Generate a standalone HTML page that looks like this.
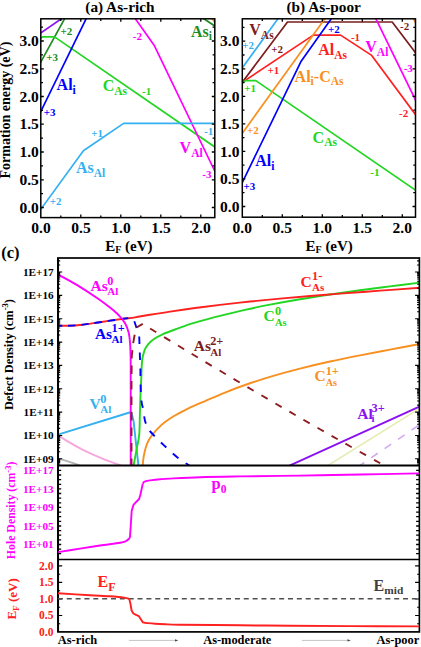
<!DOCTYPE html>
<html><head><meta charset="utf-8"><style>
html,body{margin:0;padding:0;background:#fff;width:421px;height:647px;overflow:hidden}
svg{display:block}
text{font-family:"Liberation Serif",serif;font-weight:bold}
</style></head><body>
<svg width="421" height="647" viewBox="0 0 421 647">
<rect width="421" height="647" fill="#fff"/>

<clipPath id="ca"><rect x="40.8" y="18.8" width="174.0" height="198.79999999999998"/></clipPath>
<clipPath id="cb"><rect x="242.3" y="18.8" width="173.2" height="198.39999999999998"/></clipPath>
<g clip-path="url(#ca)">
<path d="M38.33,34.71 L64.97,16.29" fill="none" stroke="#8a10f2" stroke-width="1.7" stroke-linejoin="round" />
<path d="M39.35,64.63 L66.45,15.37" fill="none" stroke="#1e8c1e" stroke-width="1.7" stroke-linejoin="round" />
<path d="M201.10,16.95 L217.30,27.65" fill="none" stroke="#1e8c1e" stroke-width="1.7" stroke-linejoin="round" />
<path d="M210.68,16.07 L216.42,25.03" fill="none" stroke="#f89020" stroke-width="1.7" stroke-linejoin="round" />
<path d="M38.61,40.35 L42.30,36.90 L53.50,36.80 L56.00,37.90 L217.27,148.70" fill="none" stroke="#22d622" stroke-width="1.7" stroke-linejoin="round" />
<path d="M39.48,114.20 L87.82,15.30" fill="none" stroke="#0000ff" stroke-width="1.7" stroke-linejoin="round" />
<path d="M133.67,16.35 L154.10,45.20 L216.10,173.90" fill="none" stroke="#ff00ff" stroke-width="1.7" stroke-linejoin="round" />
<path d="M39.04,211.73 L83.40,150.70 L123.60,123.40 L217.80,123.40" fill="none" stroke="#35b0f0" stroke-width="1.7" stroke-linejoin="round" />
</g>
<rect x="40.8" y="18.8" width="174.0" height="198.79999999999998" fill="none" stroke="#000" stroke-width="1.5"/>
<path d="M60.8,217.6v-2.2M60.8,18.8v2.2M80.8,217.6v-3M80.8,18.8v3M100.8,217.6v-2.2M100.8,18.8v2.2M120.8,217.6v-3M120.8,18.8v3M140.8,217.6v-2.2M140.8,18.8v2.2M160.8,217.6v-3M160.8,18.8v3M180.8,217.6v-2.2M180.8,18.8v2.2M200.8,217.6v-3M200.8,18.8v3M40.8,207.5h3M214.8,207.5h-3M40.8,193.6h2.2M214.8,193.6h-2.2M40.8,179.8h3M214.8,179.8h-3M40.8,165.9h2.2M214.8,165.9h-2.2M40.8,152.0h3M214.8,152.0h-3M40.8,138.1h2.2M214.8,138.1h-2.2M40.8,124.2h3M214.8,124.2h-3M40.8,110.4h2.2M214.8,110.4h-2.2M40.8,96.5h3M214.8,96.5h-3M40.8,82.6h2.2M214.8,82.6h-2.2M40.8,68.8h3M214.8,68.8h-3M40.8,54.9h2.2M214.8,54.9h-2.2M40.8,41.0h3M214.8,41.0h-3M40.8,27.1h2.2M214.8,27.1h-2.2" stroke="#000" stroke-width="1.3" fill="none"/>
<text x="60.5" y="34.6" font-size="11" fill="#1e8c1e" text-anchor="start" >+2</text>
<text x="46.3" y="60.8" font-size="11" fill="#1e8c1e" text-anchor="start" >+3</text>
<text x="56.6" y="90.0" font-size="16" fill="#0000ff">Al<tspan dy="4.0" font-size="11.5">i</tspan></text>
<text x="43.8" y="115.5" font-size="11" fill="#0000ff" text-anchor="start" >+3</text>
<text x="102.7" y="91.2" font-size="16" fill="#22d622">C<tspan dy="3.4" font-size="11.5">As</tspan></text>
<text x="142.1" y="94.6" font-size="11" fill="#22d622" text-anchor="start" >-1</text>
<text x="132.8" y="39.7" font-size="11" fill="#ff00ff" text-anchor="start" >-2</text>
<text x="190.9" y="36.7" font-size="16" fill="#1e8c1e">As<tspan dy="2.8" font-size="11.5">i</tspan></text>
<text x="91.3" y="136.7" font-size="11" fill="#35b0f0" text-anchor="start" >+1</text>
<text x="75.9" y="172.8" font-size="16" fill="#35b0f0">As<tspan dy="3.7" font-size="11.5">Al</tspan></text>
<text x="49.7" y="205.1" font-size="11" fill="#35b0f0" text-anchor="start" >+2</text>
<text x="204.2" y="135.3" font-size="11" fill="#35b0f0" text-anchor="start" >-1</text>
<text x="179.6" y="153.2" font-size="16" fill="#ff00ff">V<tspan dy="3.8" font-size="11.5">Al</tspan></text>
<text x="202.3" y="178.0" font-size="11" fill="#ff00ff" text-anchor="start" >-3</text>
<g clip-path="url(#cb)">
<path d="M240.54,70.23 L280.26,15.57" fill="none" stroke="#35b0f0" stroke-width="1.7" stroke-linejoin="round" />
<path d="M240.50,84.70 L287.50,22.00 L392.20,22.00 L417.31,55.09" fill="none" stroke="#7b1c1c" stroke-width="1.7" stroke-linejoin="round" />
<path d="M239.80,83.96 L313.30,35.10 L340.60,35.10 L371.70,55.40 L417.39,117.11" fill="none" stroke="#ff2020" stroke-width="1.7" stroke-linejoin="round" />
<path d="M239.86,84.65 L245.50,80.60 L255.80,80.60 L417.97,191.90" fill="none" stroke="#22d622" stroke-width="1.7" stroke-linejoin="round" />
<path d="M240.55,135.73 L327.15,15.57" fill="none" stroke="#f89020" stroke-width="1.7" stroke-linejoin="round" />
<path d="M411.83,15.99 L416.97,25.11" fill="none" stroke="#f89020" stroke-width="1.7" stroke-linejoin="round" />
<path d="M240.99,185.20 L300.80,61.80 L333.53,15.55" fill="none" stroke="#0000ff" stroke-width="1.7" stroke-linejoin="round" />
<path d="M374.18,15.30 L416.92,102.90" fill="none" stroke="#ff00ff" stroke-width="1.7" stroke-linejoin="round" />
</g>
<rect x="242.3" y="18.8" width="173.2" height="198.39999999999998" fill="none" stroke="#000" stroke-width="1.5"/>
<path d="M262.3,217.2v-2.2M262.3,18.8v2.2M282.3,217.2v-3M282.3,18.8v3M302.3,217.2v-2.2M302.3,18.8v2.2M322.3,217.2v-3M322.3,18.8v3M342.3,217.2v-2.2M342.3,18.8v2.2M362.3,217.2v-3M362.3,18.8v3M382.3,217.2v-2.2M382.3,18.8v2.2M402.3,217.2v-3M402.3,18.8v3M242.3,206.5h3M415.5,206.5h-3M242.3,192.7h2.2M415.5,192.7h-2.2M242.3,178.9h3M415.5,178.9h-3M242.3,165.2h2.2M415.5,165.2h-2.2M242.3,151.4h3M415.5,151.4h-3M242.3,137.6h2.2M415.5,137.6h-2.2M242.3,123.8h3M415.5,123.8h-3M242.3,110.1h2.2M415.5,110.1h-2.2M242.3,96.3h3M415.5,96.3h-3M242.3,82.5h2.2M415.5,82.5h-2.2M242.3,68.8h3M415.5,68.8h-3M242.3,55.0h2.2M415.5,55.0h-2.2M242.3,41.2h3M415.5,41.2h-3M242.3,27.4h2.2M415.5,27.4h-2.2" stroke="#000" stroke-width="1.3" fill="none"/>
<text x="249.3" y="35.0" font-size="16" fill="#7b1c1c">V<tspan dy="3.5" font-size="11.5">As</tspan></text>
<text x="242.2" y="48.7" font-size="11" fill="#35b0f0" text-anchor="start" >+2</text>
<text x="271.2" y="53.4" font-size="11" fill="#7b1c1c" text-anchor="start" >+2</text>
<text x="267.4" y="74.4" font-size="11" fill="#ff2020" text-anchor="start" >+1</text>
<text x="244.2" y="91.6" font-size="11" fill="#22d622" text-anchor="start" >+1</text>
<text x="294.6" y="81.6" font-size="16" fill="#f89020">Al<tspan dy="3.5" font-size="11.5">i</tspan><tspan dy="-3.5">-C</tspan><tspan dy="3.5" font-size="11.5">As</tspan></text>
<text x="327.9" y="32.8" font-size="11" fill="#0000ff" text-anchor="start" >+2</text>
<text x="350.9" y="41.0" font-size="11" fill="#ff2020" text-anchor="start" >-1</text>
<text x="318.2" y="54.8" font-size="16" fill="#ff2020">Al<tspan dy="4.3" font-size="11.5">As</tspan></text>
<text x="365.3" y="51.6" font-size="16" fill="#ff00ff">V<tspan dy="4.2" font-size="11.5">Al</tspan></text>
<text x="400.0" y="30.3" font-size="11" fill="#7b1c1c" text-anchor="start" >-2</text>
<text x="403.7" y="72.0" font-size="11" fill="#ff00ff" text-anchor="start" >-3</text>
<text x="399.0" y="116.9" font-size="11" fill="#ff2020" text-anchor="start" >-2</text>
<text x="247.0" y="134.2" font-size="11" fill="#f89020" text-anchor="start" >+2</text>
<text x="255.3" y="166.0" font-size="16" fill="#0000ff">Al<tspan dy="4.0" font-size="11.5">i</tspan></text>
<text x="243.5" y="189.8" font-size="11" fill="#0000ff" text-anchor="start" >+3</text>
<text x="312.6" y="143.0" font-size="16" fill="#22d622">C<tspan dy="3.4" font-size="11.5">As</tspan></text>
<text x="370.3" y="176.3" font-size="11" fill="#22d622" text-anchor="start" >-1</text>
<text x="38.8" y="212.7" font-size="15.5" fill="#000" text-anchor="end" >0.0</text>
<text x="239.4" y="211.7" font-size="15.5" fill="#000" text-anchor="end" >0.0</text>
<text x="38.8" y="184.95" font-size="15.5" fill="#000" text-anchor="end" >0.5</text>
<text x="239.4" y="184.14999999999998" font-size="15.5" fill="#000" text-anchor="end" >0.5</text>
<text x="38.8" y="157.2" font-size="15.5" fill="#000" text-anchor="end" >1.0</text>
<text x="239.4" y="156.6" font-size="15.5" fill="#000" text-anchor="end" >1.0</text>
<text x="38.8" y="129.45" font-size="15.5" fill="#000" text-anchor="end" >1.5</text>
<text x="239.4" y="129.04999999999998" font-size="15.5" fill="#000" text-anchor="end" >1.5</text>
<text x="38.8" y="101.7" font-size="15.5" fill="#000" text-anchor="end" >2.0</text>
<text x="239.4" y="101.5" font-size="15.5" fill="#000" text-anchor="end" >2.0</text>
<text x="38.8" y="73.95" font-size="15.5" fill="#000" text-anchor="end" >2.5</text>
<text x="239.4" y="73.95" font-size="15.5" fill="#000" text-anchor="end" >2.5</text>
<text x="38.8" y="46.2" font-size="15.5" fill="#000" text-anchor="end" >3.0</text>
<text x="239.4" y="46.39999999999999" font-size="15.5" fill="#000" text-anchor="end" >3.0</text>
<text x="41" y="232.6" font-size="15.5" fill="#000" text-anchor="middle" >0.0</text>
<text x="242.3" y="232.6" font-size="15.5" fill="#000" text-anchor="middle" >0.0</text>
<text x="81" y="232.6" font-size="15.5" fill="#000" text-anchor="middle" >0.5</text>
<text x="282.3" y="232.6" font-size="15.5" fill="#000" text-anchor="middle" >0.5</text>
<text x="121" y="232.6" font-size="15.5" fill="#000" text-anchor="middle" >1.0</text>
<text x="322.3" y="232.6" font-size="15.5" fill="#000" text-anchor="middle" >1.0</text>
<text x="161" y="232.6" font-size="15.5" fill="#000" text-anchor="middle" >1.5</text>
<text x="362.3" y="232.6" font-size="15.5" fill="#000" text-anchor="middle" >1.5</text>
<text x="201" y="232.6" font-size="15.5" fill="#000" text-anchor="middle" >2.0</text>
<text x="402.3" y="232.6" font-size="15.5" fill="#000" text-anchor="middle" >2.0</text>
<text x="105.2" y="250.5" font-size="15">E<tspan dy="2.5" font-size="10">F</tspan><tspan dy="-2.5"> (eV)</tspan></text>
<text x="305.5" y="250.5" font-size="15">E<tspan dy="2.5" font-size="10">F</tspan><tspan dy="-2.5"> (eV)</tspan></text>
<text x="85.3" y="12.0" font-size="15.3" fill="#000" text-anchor="start" >(a) As-rich</text>
<text x="286.5" y="12.0" font-size="15.3" fill="#000" text-anchor="start" >(b) As-poor</text>
<text transform="translate(10.4,110.1) rotate(-90)" font-size="14" text-anchor="middle">Formation energy (eV)</text>
<clipPath id="cc"><rect x="57.9" y="258.0" width="361.5" height="207.5"/></clipPath>
<g clip-path="url(#cc)">
<path d="M57.90,458.30 C59.32,458.72 63.72,459.95 66.40,460.80 C69.08,461.65 71.40,462.45 74.00,463.40 C76.60,464.35 80.67,465.98 82.00,466.50" fill="none" stroke="#b4b4b4" stroke-width="1.9" stroke-linejoin="round" />
<path d="M57.90,434.60 C59.32,435.60 62.13,438.02 66.40,440.60 C70.67,443.18 77.48,447.08 83.50,450.10 C89.52,453.12 96.32,456.17 102.50,458.70 C108.68,461.23 117.02,463.92 120.60,465.30 C124.18,466.68 123.43,466.72 124.00,467.00" fill="none" stroke="#f7a6dc" stroke-width="1.9" stroke-linejoin="round" />
<path d="M357.70,467.00 L422.00,423.00" fill="none" stroke="#d2aaf2" stroke-width="1.6" stroke-linejoin="round" stroke-dasharray="8,8.3"/>
<path d="M325.40,467.00 L419.40,408.60" fill="none" stroke="#e6ecb0" stroke-width="1.6" stroke-linejoin="round" />
<path d="M286.50,467.00 L419.40,406.60" fill="none" stroke="#8a10f2" stroke-width="1.9" stroke-linejoin="round" />
<path d="M142.60,467.00 C142.70,465.83 142.88,462.42 143.20,460.00 C143.52,457.58 143.88,455.13 144.50,452.50 C145.12,449.87 146.00,446.57 146.90,444.20 C147.80,441.83 148.82,440.08 149.90,438.30 C150.98,436.52 152.02,435.18 153.40,433.50 C154.78,431.82 156.42,429.98 158.20,428.20 C159.98,426.42 161.53,424.78 164.10,422.80 C166.67,420.82 169.62,418.67 173.60,416.30 C177.58,413.93 182.77,411.15 188.00,408.60 C193.23,406.05 198.83,403.71 205.00,401.03 C211.17,398.34 217.50,395.47 225.00,392.51 C232.50,389.55 241.67,386.12 250.00,383.27 C258.33,380.41 266.67,377.81 275.00,375.36 C283.33,372.91 290.83,370.86 300.00,368.56 C309.17,366.25 320.00,363.73 330.00,361.52 C340.00,359.32 350.00,357.33 360.00,355.35 C370.00,353.36 380.00,351.52 390.00,349.62 C400.00,347.72 415.00,344.89 420.00,343.95" fill="none" stroke="#f89020" stroke-width="1.9" stroke-linejoin="round" />
<path d="M57.90,434.60 L131.20,412.00 L133.50,420.60 L138.60,467.00" fill="none" stroke="#35b0f0" stroke-width="1.9" stroke-linejoin="round" />
<path d="M133.30,467.00 C133.83,464.17 135.52,455.35 136.50,450.00 C137.48,444.65 138.63,440.98 139.20,434.90 C139.77,428.82 139.67,420.65 139.90,413.50 C140.13,406.35 140.38,397.58 140.60,392.00 C140.82,386.42 140.95,385.18 141.20,380.00 C141.45,374.82 141.55,365.83 142.10,360.90 C142.65,355.97 143.47,353.18 144.50,350.40 C145.53,347.62 146.72,346.10 148.30,344.20 C149.88,342.30 151.62,340.65 154.00,339.00 C156.38,337.35 159.10,335.88 162.60,334.30 C166.10,332.72 170.43,331.20 175.00,329.50 C179.57,327.80 185.00,325.74 190.00,324.13 C195.00,322.51 200.00,321.19 205.00,319.80 C210.00,318.42 213.33,317.47 220.00,315.82 C226.67,314.16 236.67,311.72 245.00,309.85 C253.33,307.99 260.83,306.42 270.00,304.65 C279.17,302.87 290.00,300.91 300.00,299.22 C310.00,297.53 320.00,295.99 330.00,294.50 C340.00,293.02 350.00,291.65 360.00,290.30 C370.00,288.94 380.00,287.68 390.00,286.39 C400.00,285.11 415.00,283.22 420.00,282.59" fill="none" stroke="#22d622" stroke-width="1.9" stroke-linejoin="round" />
<path d="M57.90,325.80 C59.55,325.78 64.12,325.83 67.80,325.70 C71.48,325.57 75.97,325.38 80.00,325.00 C84.03,324.62 87.27,324.08 92.00,323.40 C96.73,322.72 103.17,321.67 108.40,320.90 C113.63,320.13 118.97,319.40 123.40,318.80 C127.83,318.20 130.57,318.00 135.00,317.32 C139.43,316.64 144.17,315.70 150.00,314.74 C155.83,313.78 162.50,312.69 170.00,311.57 C177.50,310.45 186.67,309.14 195.00,308.02 C203.33,306.90 210.83,305.95 220.00,304.86 C229.17,303.78 240.00,302.58 250.00,301.53 C260.00,300.49 270.00,299.53 280.00,298.61 C290.00,297.69 300.00,296.84 310.00,296.01 C320.00,295.18 328.33,294.53 340.00,293.64 C351.67,292.75 366.67,291.66 380.00,290.67 C393.33,289.69 413.33,288.23 420.00,287.74" fill="none" stroke="#ff2020" stroke-width="1.9" stroke-linejoin="round" />
<path d="M128.30,318.10 C127.48,318.22 126.72,318.33 123.40,318.80 C120.08,319.27 113.63,320.13 108.40,320.90 C103.17,321.67 96.73,322.72 92.00,323.40 C87.27,324.08 84.03,324.62 80.00,325.00 C75.97,325.38 71.48,325.57 67.80,325.70 C64.12,325.83 59.55,325.78 57.90,325.80" fill="none" stroke="#0000ff" stroke-width="1.9" stroke-linejoin="round" stroke-dasharray="7.5,5.8"/>
<path d="M134.3,321.3 L136.6,328 M139.2,336.5 L140.4,370  C140.43,372.50 140.43,379.88 140.60,385.00 C140.77,390.12 141.03,396.90 141.40,400.70 C141.77,404.50 142.20,404.47 142.80,407.80 C143.40,411.13 144.13,417.33 145.00,420.70 C145.87,424.07 146.82,425.87 148.00,428.00 C149.18,430.13 149.52,430.68 152.10,433.50 C154.68,436.32 159.22,440.87 163.50,444.90 C167.78,448.93 173.52,454.27 177.80,457.70 C182.08,461.13 186.83,463.87 189.20,465.50 C191.57,467.13 191.53,467.17 192.00,467.50" fill="none" stroke="#0000ff" stroke-width="1.9" stroke-dasharray="7.5,8.5"/>
<path d="M57.90,274.40 C60.98,276.10 69.75,280.58 76.40,284.60 C83.05,288.62 92.10,294.58 97.80,298.50 C103.50,302.42 107.05,305.25 110.60,308.10 C114.15,310.95 116.67,313.03 119.10,315.60 C121.53,318.17 123.60,320.65 125.20,323.50 C126.80,326.35 127.90,329.53 128.70,332.70 C129.50,335.87 129.68,338.62 130.00,342.50 C130.32,346.38 130.48,349.75 130.60,356.00 C130.72,362.25 130.68,361.50 130.70,380.00 C130.72,398.50 130.70,452.50 130.70,467.00" fill="none" stroke="#ff00ff" stroke-width="1.9" stroke-linejoin="round" />
<path d="M131.5,467 L131.5,380 L131.8,356 L133,344 L134.8,334" fill="none" stroke="#8e1c20" stroke-width="1.9" stroke-dasharray="8.5,7"/>
<path d="M136.5,327.5 L142.9,323.8 L149.50,328.14 C153.75,330.74 166.58,338.60 175.00,343.71 C183.42,348.82 190.83,353.31 200.00,358.81 C209.17,364.32 220.00,370.80 230.00,376.74 C240.00,382.68 250.00,388.58 260.00,394.45 C270.00,400.32 280.00,406.15 290.00,411.94 C300.00,417.74 310.00,423.50 320.00,429.22 C330.00,434.94 339.00,440.07 350.00,446.28 C361.00,452.48 380.00,463.10 386.00,466.46" fill="none" stroke="#8e1c20" stroke-width="1.9" stroke-dasharray="7.2,9"/>
</g>
<rect x="57.9" y="258.0" width="361.5" height="373.9" fill="none" stroke="#000" stroke-width="1.7"/>
<line x1="57.9" y1="465.5" x2="419.4" y2="465.5" stroke="#000" stroke-width="2.0"/>
<line x1="58.1" y1="258.0" x2="58.1" y2="631.9" stroke="#000" stroke-width="1.9"/>
<line x1="57.9" y1="559.5" x2="419.4" y2="559.5" stroke="#000" stroke-width="1.6"/>
<path d="M57.9,464.0h2.3M419.4,464.0h-2.3M57.9,462.4h2.3M419.4,462.4h-2.3M57.9,461.1h2.3M419.4,461.1h-2.3M57.9,459.9h2.3M419.4,459.9h-2.3M57.9,458.8h4.3M419.4,458.8h-4.3M57.9,451.8h2.3M419.4,451.8h-2.3M57.9,447.7h2.3M419.4,447.7h-2.3M57.9,444.7h2.3M419.4,444.7h-2.3M57.9,442.5h2.3M419.4,442.5h-2.3M57.9,440.6h2.3M419.4,440.6h-2.3M57.9,439.1h2.3M419.4,439.1h-2.3M57.9,437.7h2.3M419.4,437.7h-2.3M57.9,436.5h2.3M419.4,436.5h-2.3M57.9,435.5h4.3M419.4,435.5h-4.3M57.9,428.4h2.3M419.4,428.4h-2.3M57.9,424.3h2.3M419.4,424.3h-2.3M57.9,421.4h2.3M419.4,421.4h-2.3M57.9,419.1h2.3M419.4,419.1h-2.3M57.9,417.3h2.3M419.4,417.3h-2.3M57.9,415.7h2.3M419.4,415.7h-2.3M57.9,414.4h2.3M419.4,414.4h-2.3M57.9,413.2h2.3M419.4,413.2h-2.3M57.9,412.1h4.3M419.4,412.1h-4.3M57.9,405.1h2.3M419.4,405.1h-2.3M57.9,401.0h2.3M419.4,401.0h-2.3M57.9,398.0h2.3M419.4,398.0h-2.3M57.9,395.8h2.3M419.4,395.8h-2.3M57.9,393.9h2.3M419.4,393.9h-2.3M57.9,392.4h2.3M419.4,392.4h-2.3M57.9,391.0h2.3M419.4,391.0h-2.3M57.9,389.8h2.3M419.4,389.8h-2.3M57.9,388.8h4.3M419.4,388.8h-4.3M57.9,381.7h2.3M419.4,381.7h-2.3M57.9,377.6h2.3M419.4,377.6h-2.3M57.9,374.7h2.3M419.4,374.7h-2.3M57.9,372.4h2.3M419.4,372.4h-2.3M57.9,370.6h2.3M419.4,370.6h-2.3M57.9,369.0h2.3M419.4,369.0h-2.3M57.9,367.7h2.3M419.4,367.7h-2.3M57.9,366.5h2.3M419.4,366.5h-2.3M57.9,365.4h4.3M419.4,365.4h-4.3M57.9,358.4h2.3M419.4,358.4h-2.3M57.9,354.3h2.3M419.4,354.3h-2.3M57.9,351.3h2.3M419.4,351.3h-2.3M57.9,349.1h2.3M419.4,349.1h-2.3M57.9,347.2h2.3M419.4,347.2h-2.3M57.9,345.7h2.3M419.4,345.7h-2.3M57.9,344.3h2.3M419.4,344.3h-2.3M57.9,343.1h2.3M419.4,343.1h-2.3M57.9,342.1h4.3M419.4,342.1h-4.3M57.9,335.0h2.3M419.4,335.0h-2.3M57.9,330.9h2.3M419.4,330.9h-2.3M57.9,328.0h2.3M419.4,328.0h-2.3M57.9,325.7h2.3M419.4,325.7h-2.3M57.9,323.9h2.3M419.4,323.9h-2.3M57.9,322.3h2.3M419.4,322.3h-2.3M57.9,321.0h2.3M419.4,321.0h-2.3M57.9,319.8h2.3M419.4,319.8h-2.3M57.9,318.7h4.3M419.4,318.7h-4.3M57.9,311.7h2.3M419.4,311.7h-2.3M57.9,307.6h2.3M419.4,307.6h-2.3M57.9,304.6h2.3M419.4,304.6h-2.3M57.9,302.4h2.3M419.4,302.4h-2.3M57.9,300.5h2.3M419.4,300.5h-2.3M57.9,299.0h2.3M419.4,299.0h-2.3M57.9,297.6h2.3M419.4,297.6h-2.3M57.9,296.4h2.3M419.4,296.4h-2.3M57.9,295.4h4.3M419.4,295.4h-4.3M57.9,288.3h2.3M419.4,288.3h-2.3M57.9,284.2h2.3M419.4,284.2h-2.3M57.9,281.3h2.3M419.4,281.3h-2.3M57.9,279.0h2.3M419.4,279.0h-2.3M57.9,277.2h2.3M419.4,277.2h-2.3M57.9,275.6h2.3M419.4,275.6h-2.3M57.9,274.3h2.3M419.4,274.3h-2.3M57.9,273.1h2.3M419.4,273.1h-2.3M57.9,272.0h4.3M419.4,272.0h-4.3M57.9,265.0h2.3M419.4,265.0h-2.3M57.9,260.9h2.3M419.4,260.9h-2.3" stroke="#000" stroke-width="1.1" fill="none"/>
<path d="M57.9,553.7h3.3M419.4,553.7h-3.3M57.9,549.1h3.3M419.4,549.1h-3.3M57.9,544.5h3.3M419.4,544.5h-3.3M57.9,539.9h3.3M419.4,539.9h-3.3M57.9,535.2h3.3M419.4,535.2h-3.3M57.9,530.6h3.3M419.4,530.6h-3.3M57.9,526.0h3.3M419.4,526.0h-3.3M57.9,521.3h3.3M419.4,521.3h-3.3M57.9,516.7h3.3M419.4,516.7h-3.3M57.9,512.1h3.3M419.4,512.1h-3.3M57.9,507.4h3.3M419.4,507.4h-3.3M57.9,502.8h3.3M419.4,502.8h-3.3M57.9,498.2h3.3M419.4,498.2h-3.3M57.9,493.5h3.3M419.4,493.5h-3.3M57.9,488.9h3.3M419.4,488.9h-3.3M57.9,484.3h3.3M419.4,484.3h-3.3M57.9,479.7h3.3M419.4,479.7h-3.3M57.9,475.0h3.3M419.4,475.0h-3.3M57.9,470.4h3.3M419.4,470.4h-3.3" stroke="#000" stroke-width="1.3" fill="none"/>
<path d="M57.9,623.7h2.3M419.4,623.7h-2.3M57.9,615.5h4.3M419.4,615.5h-4.3M57.9,607.2h2.3M419.4,607.2h-2.3M57.9,599.0h4.3M419.4,599.0h-4.3M57.9,590.7h2.3M419.4,590.7h-2.3M57.9,582.4h4.3M419.4,582.4h-4.3M57.9,574.2h2.3M419.4,574.2h-2.3M57.9,565.9h4.3M419.4,565.9h-4.3" stroke="#000" stroke-width="1.1" fill="none"/>
<path d="M58.20,552.10 C61.83,551.52 73.03,549.70 80.00,548.60 C86.97,547.50 93.33,546.47 100.00,545.50 C106.67,544.53 115.67,543.55 120.00,542.80 C124.33,542.05 124.35,541.82 126.00,541.00 C127.65,540.18 129.25,538.42 129.90,537.90" fill="none" stroke="#ff00ff" stroke-width="1.9" stroke-linejoin="round" />
<path d="M129.90,537.90 L130.80,525.00 L131.70,510.70 L133.60,504.60 L139.10,499.00 L140.40,494.70 L142.80,483.60" fill="none" stroke="#ff00ff" stroke-width="1.9" stroke-linejoin="round" />
<path d="M142.80,483.60 C143.00,483.33 143.48,482.42 144.00,482.00 C144.52,481.58 144.57,481.42 145.90,481.10 C147.23,480.78 149.65,480.40 152.00,480.10 C154.35,479.80 157.00,479.55 160.00,479.30 C163.00,479.05 163.33,478.95 170.00,478.60 C176.67,478.25 188.33,477.57 200.00,477.20 C211.67,476.83 223.33,476.67 240.00,476.40 C256.67,476.13 280.00,475.92 300.00,475.60 C320.00,475.28 340.17,474.87 360.00,474.50 C379.83,474.13 409.17,473.58 419.00,473.40" fill="none" stroke="#ff00ff" stroke-width="1.9" stroke-linejoin="round" />
<line x1="57.9" y1="598.8" x2="419.4" y2="598.8" stroke="#505050" stroke-width="1.4" stroke-dasharray="5,3.85"/>
<path d="M58.00,593.30 C63.33,593.62 81.33,594.70 90.00,595.20 C98.67,595.70 104.33,595.90 110.00,596.30 C115.67,596.70 120.78,597.15 124.00,597.60 C127.22,598.05 128.42,598.77 129.30,599.00" fill="none" stroke="#ff2020" stroke-width="1.9" stroke-linejoin="round" />
<path d="M129.30,599.00 L130.50,604.00 L131.60,610.50 L133.40,613.50 L136.00,614.90 L138.80,616.10 L140.50,618.80 L142.90,622.40 L145.90,623.00" fill="none" stroke="#ff2020" stroke-width="1.9" stroke-linejoin="round" />
<path d="M145.90,623.00 C147.42,623.12 151.82,623.50 155.00,623.70 C158.18,623.90 160.83,624.03 165.00,624.20 C169.17,624.37 167.50,624.52 180.00,624.70 C192.50,624.88 221.67,625.12 240.00,625.30 C258.33,625.48 271.67,625.67 290.00,625.80 C308.33,625.93 328.50,626.00 350.00,626.10 C371.50,626.20 407.50,626.35 419.00,626.40" fill="none" stroke="#ff2020" stroke-width="1.9" stroke-linejoin="round" />
<text x="53.6" y="462.7" font-size="11.2" fill="#000" text-anchor="end" >1E+09</text>
<text x="53.6" y="439.35" font-size="11.2" fill="#000" text-anchor="end" >1E+10</text>
<text x="53.6" y="416.0" font-size="11.2" fill="#000" text-anchor="end" >1E+11</text>
<text x="53.6" y="392.65" font-size="11.2" fill="#000" text-anchor="end" >1E+12</text>
<text x="53.6" y="369.29999999999995" font-size="11.2" fill="#000" text-anchor="end" >1E+13</text>
<text x="53.6" y="345.95" font-size="11.2" fill="#000" text-anchor="end" >1E+14</text>
<text x="53.6" y="322.59999999999997" font-size="11.2" fill="#000" text-anchor="end" >1E+15</text>
<text x="53.6" y="299.25" font-size="11.2" fill="#000" text-anchor="end" >1E+16</text>
<text x="53.6" y="275.9" font-size="11.2" fill="#000" text-anchor="end" >1E+17</text>
<text x="53.6" y="474.29999999999995" font-size="11.2" fill="#ff00ff" text-anchor="end" >1E+17</text>
<text x="53.6" y="492.81999999999994" font-size="11.2" fill="#ff00ff" text-anchor="end" >1E+13</text>
<text x="53.6" y="511.34" font-size="11.2" fill="#ff00ff" text-anchor="end" >1E+09</text>
<text x="53.6" y="529.86" font-size="11.2" fill="#ff00ff" text-anchor="end" >1E+05</text>
<text x="53.6" y="548.38" font-size="11.2" fill="#ff00ff" text-anchor="end" >1E+01</text>
<text x="53.4" y="635.9" font-size="11.5" fill="#ff2020" text-anchor="end" >0.0</text>
<text x="53.4" y="619.375" font-size="11.5" fill="#ff2020" text-anchor="end" >0.5</text>
<text x="53.4" y="602.85" font-size="11.5" fill="#ff2020" text-anchor="end" >1.0</text>
<text x="53.4" y="586.3249999999999" font-size="11.5" fill="#ff2020" text-anchor="end" >1.5</text>
<text x="53.4" y="569.8" font-size="11.5" fill="#ff2020" text-anchor="end" >2.0</text>
<text x="1.2" y="257.9" font-size="16.5" fill="#000" text-anchor="start" >(c)</text>
<text transform="translate(12.8,354.6) rotate(-90)" font-size="12.4" text-anchor="middle">Defect Density (cm<tspan dy="-4.5" font-size="8.5">-3</tspan><tspan dy="4.5">)</tspan></text>
<text transform="translate(15.4,510.4) rotate(-90)" font-size="11.8" fill="#ff00ff" text-anchor="middle">Hole Density (cm<tspan dy="-4.5" font-size="8.5">-3</tspan><tspan dy="4.5">)</tspan></text>
<text transform="translate(16.4,598.9) rotate(-90)" font-size="13" fill="#ff2020" text-anchor="middle">E<tspan dy="2.7" font-size="9.2">F</tspan><tspan dy="-2.5"> (eV)</tspan></text>
<text x="90.6" y="291.2" font-size="15.5" fill="#ff00ff">As</text>
<text x="107.19999999999999" y="284.59999999999997" font-size="12.3" fill="#ff00ff">0</text>
<text x="107.19999999999999" y="294.59999999999997" font-size="11" fill="#ff00ff">Al</text>
<text x="94.9" y="339.4" font-size="15.5" fill="#0000ff">As</text>
<text x="111.5" y="332.2" font-size="12.3" fill="#0000ff">1+</text>
<text x="111.5" y="343.0" font-size="11" fill="#0000ff">Al</text>
<text x="89.6" y="408.9" font-size="15.5" fill="#35b0f0">V</text>
<text x="100.19999999999999" y="403.09999999999997" font-size="12.3" fill="#35b0f0">0</text>
<text x="100.19999999999999" y="413.09999999999997" font-size="11" fill="#35b0f0">Al</text>
<text x="300.5" y="287.3" font-size="15.5" fill="#ff2020">C</text>
<text x="312.0" y="280.3" font-size="12.3" fill="#ff2020">1-</text>
<text x="312.0" y="290.90000000000003" font-size="11" fill="#ff2020">As</text>
<text x="263.6" y="321.4" font-size="15.5" fill="#22d622">C</text>
<text x="275.0" y="314.59999999999997" font-size="12.3" fill="#22d622">0</text>
<text x="275.0" y="325.59999999999997" font-size="10.5" fill="#22d622">As</text>
<text x="193.8" y="351.0" font-size="15.5" fill="#7b1c1c">As</text>
<text x="210.20000000000002" y="345.0" font-size="12.3" fill="#7b1c1c">2+</text>
<text x="210.20000000000002" y="356.1" font-size="11" fill="#7b1c1c">Al</text>
<text x="314.5" y="381" font-size="15.5" fill="#f89020">C</text>
<text x="325.7" y="374.5" font-size="12.3" fill="#f89020">1+</text>
<text x="325.7" y="385.5" font-size="10.2" fill="#f89020">As</text>
<text x="357.2" y="418.5" font-size="15.5" fill="#8a10f2">Al</text>
<text x="371.59999999999997" y="411.5" font-size="12.3" fill="#8a10f2">3+</text>
<text x="371.59999999999997" y="421.5" font-size="11" fill="#8a10f2">i</text>
<text x="211.6" y="489.2" font-size="16.5" fill="#ff00ff">p<tspan dy="3.9" font-size="11.5">0</tspan></text>
<text x="97.6" y="587.3" font-size="16" fill="#ff2020">E<tspan dy="3.8" font-size="12">F</tspan></text>
<text x="373.6" y="590.6" font-size="16" fill="#404040">E<tspan dy="3.2" font-size="11.4">mid</tspan></text>
<text x="57.8" y="644.4" font-size="12.4" fill="#000" text-anchor="start" >As-rich</text>
<text x="203.2" y="644.4" font-size="12.4" fill="#000" text-anchor="start" >As-moderate</text>
<text x="419.2" y="644.4" font-size="12.4" fill="#000" text-anchor="end" >As-poor</text>
<line x1="129" y1="640.4" x2="176.5" y2="640.4" stroke="#c4c4c4" stroke-width="1"/>
<path d="M175,639.2 L178.3,640.4 L175,641.6z" fill="#444"/>
<line x1="301.8" y1="640.4" x2="349" y2="640.4" stroke="#c4c4c4" stroke-width="1"/>
<path d="M347.5,639.2 L350.8,640.4 L347.5,641.6z" fill="#444"/>
</svg></body></html>
